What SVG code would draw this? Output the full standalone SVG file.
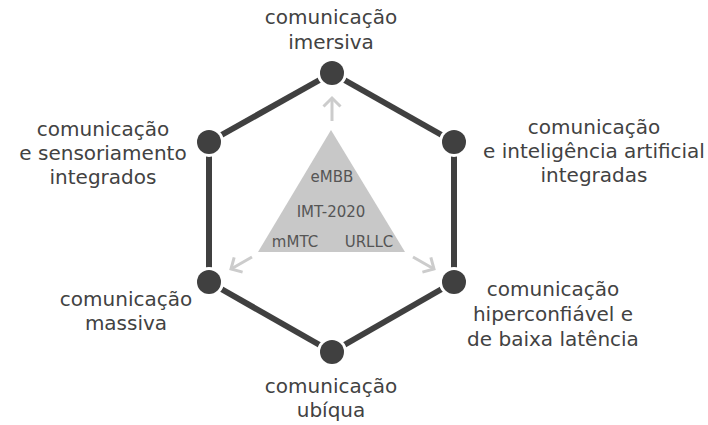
<svg xmlns="http://www.w3.org/2000/svg" width="708" height="425" viewBox="0 0 708 425">
  <defs>
    <style>
      .lbl { font-family: "DejaVu Sans", Verdana, sans-serif; font-size: 20px; fill: #424242; text-anchor: middle; }
      .tri { font-family: "DejaVu Sans", Verdana, sans-serif; font-size: 15px; fill: #555555; text-anchor: middle; }
      .edge { stroke: #404040; stroke-width: 6; fill: none; }
      .node { fill: #404040; stroke: #ffffff; stroke-width: 6; paint-order: stroke; }
      .arr { stroke: #cccccc; stroke-width: 3; fill: none; marker-end: url(#chev); }
    </style>
    <marker id="chev" markerUnits="userSpaceOnUse" markerWidth="24" markerHeight="24" refX="11" refY="12" orient="auto">
      <path d="M2.5,3.5 L11,12 L2.5,20.5" fill="none" stroke="#cccccc" stroke-width="3"/>
    </marker>
  </defs>
  <rect width="708" height="425" fill="#ffffff"/>

  <g id="connectors">
    <line class="edge" x1="332" y1="73" x2="454" y2="142"/>
    <line class="edge" x1="454" y1="142" x2="454" y2="282"/>
    <line class="edge" x1="454" y1="282" x2="332" y2="352"/>
    <line class="edge" x1="332" y1="352" x2="209" y2="282"/>
    <line class="edge" x1="209" y1="282" x2="209" y2="142"/>
    <line class="edge" x1="209" y1="142" x2="332" y2="73"/>
    <line class="arr" x1="332" y1="121" x2="332" y2="98"/>
    <line class="arr" x1="252" y1="257" x2="231" y2="269"/>
    <line class="arr" x1="413" y1="257" x2="434" y2="269"/>
  </g>

  <g id="imt2020">
    <polygon points="331,130 258,252 405,252" fill="#c8c8c8"/>
    <text class="tri" x="332" y="182">eMBB</text>
    <text class="tri" x="331" y="217">IMT-2020</text>
    <text class="tri" x="295" y="247">mMTC</text>
    <text class="tri" x="369" y="247">URLLC</text>
  </g>

  <g id="n-imersiva">
    <circle class="node" cx="332" cy="73" r="12"/>
    <text class="lbl" x="331" y="24">comunicação</text>
    <text class="lbl" x="331" y="49">imersiva</text>
  </g>

  <g id="n-ia">
    <circle class="node" cx="454" cy="142" r="12"/>
    <text class="lbl" x="594" y="134">comunicação</text>
    <text class="lbl" x="594" y="158">e inteligência artificial</text>
    <text class="lbl" x="594" y="182">integradas</text>
  </g>

  <g id="n-urllc">
    <circle class="node" cx="454" cy="282" r="12"/>
    <text class="lbl" x="553" y="296">comunicação</text>
    <text class="lbl" x="553" y="321">hiperconfiável e</text>
    <text class="lbl" x="553" y="346">de baixa latência</text>
  </g>

  <g id="n-ubiqua">
    <circle class="node" cx="332" cy="352" r="12"/>
    <text class="lbl" x="331" y="393">comunicação</text>
    <text class="lbl" x="331" y="417">ubíqua</text>
  </g>

  <g id="n-massiva">
    <circle class="node" cx="209" cy="282" r="12"/>
    <text class="lbl" x="126" y="306">comunicação</text>
    <text class="lbl" x="126" y="330">massiva</text>
  </g>

  <g id="n-sensoriamento">
    <circle class="node" cx="209" cy="142" r="12"/>
    <text class="lbl" x="103" y="136">comunicação</text>
    <text class="lbl" x="103" y="160">e sensoriamento</text>
    <text class="lbl" x="103" y="184">integrados</text>
  </g>
</svg>
